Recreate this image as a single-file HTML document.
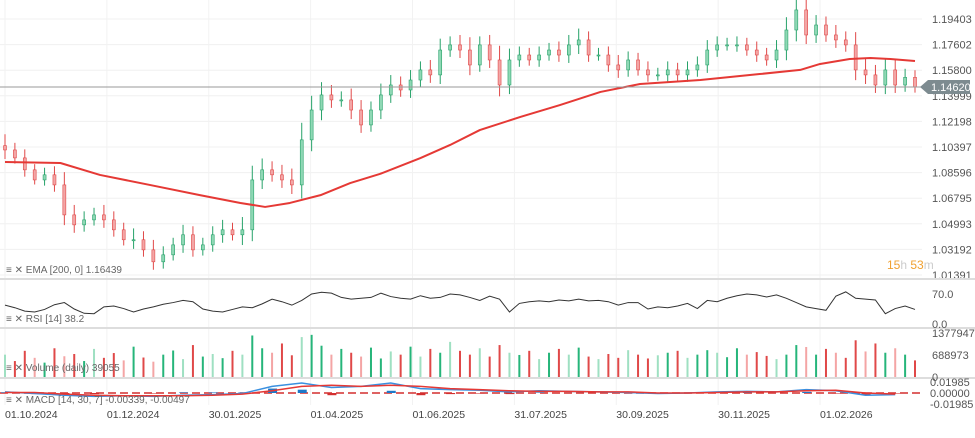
<!DOCTYPE html>
<html><head><meta charset="utf-8"><style>
body{margin:0;background:#fff;width:975px;height:433px;overflow:hidden;font-family:"Liberation Sans",sans-serif}
svg text{font-family:"Liberation Sans",sans-serif}
</style></head><body>
<svg id="c" width="975" height="433" xmlns="http://www.w3.org/2000/svg"></svg>
<script>
const closes=[1.1019,1.0963,1.0879,1.0808,1.0844,1.0773,1.0562,1.0492,1.0527,1.0562,1.0527,1.0457,1.0387,1.0387,1.0316,1.0232,1.0281,1.0351,1.0422,1.0316,1.0351,1.0422,1.0457,1.0422,1.0457,1.0808,1.0879,1.0844,1.0808,1.0773,1.1090,1.1300,1.1406,1.1371,1.1371,1.1300,1.1195,1.1300,1.1406,1.1476,1.1441,1.1511,1.1582,1.1547,1.1722,1.1758,1.1722,1.1617,1.1758,1.1652,1.1476,1.1652,1.1687,1.1652,1.1687,1.1722,1.1687,1.1758,1.1793,1.1687,1.1687,1.1617,1.1582,1.1652,1.1582,1.1547,1.1547,1.1582,1.1547,1.1582,1.1617,1.1722,1.1758,1.1758,1.1758,1.1722,1.1687,1.1652,1.1722,1.1863,1.2004,1.1828,1.1898,1.1828,1.1793,1.1758,1.1582,1.1547,1.1476,1.1582,1.1476,1.1530,1.1462];
const wicks=[0.008,0.005,0.006,0.004,0.005,0.006,0.009,0.007,0.006,0.005,0.007,0.006,0.005,0.008,0.006,0.007,0.006,0.005,0.007,0.006,0.005,0.006,0.007,0.005,0.009,0.010,0.008,0.006,0.007,0.008,0.012,0.010,0.009,0.007,0.006,0.008,0.007,0.006,0.008,0.007,0.006,0.007,0.006,0.007,0.008,0.006,0.007,0.009,0.006,0.007,0.010,0.008,0.006,0.005,0.006,0.005,0.006,0.007,0.008,0.006,0.005,0.006,0.007,0.006,0.005,0.006,0.005,0.006,0.005,0.006,0.006,0.007,0.006,0.005,0.006,0.005,0.006,0.005,0.007,0.009,0.010,0.008,0.007,0.006,0.007,0.006,0.009,0.008,0.007,0.008,0.007,0.006,0.005];
const emaIdx=[0,5.6,9.6,14.7,19.7,23.8,26.3,28.8,31.9,34.9,37.9,42,45,48,52.1,56.1,60.2,64.2,70.3,76.3,80.4,82.4,85.4,87.5,89.5,92];
const emaVals=[1.0934,1.0927,1.0843,1.0772,1.0701,1.0646,1.0618,1.0646,1.0701,1.0786,1.0850,1.0962,1.1054,1.1159,1.1251,1.1335,1.1427,1.1483,1.1511,1.1553,1.1582,1.1624,1.1659,1.1666,1.1659,1.1645];
const rsiVals=[44,38,30,28,34,45,50,35,25,24,40,42,36,28,35,40,46,50,55,52,35,30,28,34,40,38,47,58,52,44,55,70,74,72,62,58,60,62,72,64,60,58,66,60,62,70,68,62,55,65,58,28,48,52,54,52,56,54,58,54,55,52,44,50,50,35,40,38,42,48,36,55,52,60,66,70,68,63,68,60,50,40,36,32,65,75,60,58,56,24,36,42,34];
const volumes=[700,500,820,600,450,900,650,720,500,880,600,750,520,950,610,480,700,830,560,1000,640,720,590,820,700,1300,900,760,1050,680,1250,1320,980,700,880,760,640,920,580,800,700,950,640,880,760,1100,820,700,900,640,1000,760,690,820,560,760,880,700,920,640,560,720,600,840,700,580,680,760,820,600,700,840,760,620,900,700,780,660,560,700,1000,940,700,880,760,600,1150,800,1050,760,900,700,520];
const macdVals=[0.002,-0.001,-0.004,-0.006,-0.005,-0.006,-0.004,-0.003,-0.001,0.012,0.018,0.010,0.012,0.018,0.008,0.006,0.005,0.002,0.004,0.003,0.002,0.001,-0.001,0.000,0.002,0.003,0.002,0.006,0.004,-0.004,-0.003];
const sigVals=[0.001,0.001,-0.002,-0.004,-0.005,-0.005,-0.005,-0.004,-0.002,0.004,0.012,0.014,0.012,0.014,0.012,0.008,0.006,0.004,0.003,0.003,0.002,0.002,0.000,0.000,0.001,0.002,0.002,0.004,0.005,0.000,-0.002];
const priceTicks=[1.19403,1.17602,1.15800,1.13999,1.12198,1.10397,1.08596,1.06795,1.04993,1.03192,1.01391];
const dateLabels=["01.10.2024","01.12.2024","30.01.2025","01.04.2025","01.06.2025","31.07.2025","30.09.2025","30.11.2025","01.02.2026"];
const dateIdx=[0,10.3,20.6,30.9,41.2,51.5,61.8,72.1,82.4];

const S=document.getElementById('c'),NS="http://www.w3.org/2000/svg";
function mk(t,a,p){const e=document.createElementNS(NS,t);for(const k in a)e.setAttribute(k,a[k]);(p||S).appendChild(e);return e;}
const n=closes.length;
const X=i=>5+i*(915-5)/(n-1);
const Y=p=>19+(1.19403-p)/0.18012*256;
const Yr=v=>324-v*(30/70);
const Yv=v=>377-v/1377.947*44;
const Ym=v=>393-v/0.01985*11;

priceTicks.forEach(t=>{const l=mk('line',{x1:0,x2:922,y1:Y(t),y2:Y(t),stroke:'#f0f0f0'});


const tx=mk('text',{x:932,y:Y(t)+4,'font-size':11,fill:'#555'});tx.textContent=t.toFixed(5);

});
dateIdx.forEach((d,k)=>{const l=mk('line',{x1:X(d),x2:X(d),y1:0,y2:405,stroke:'#f2f2f2'});


const tx=mk('text',{x:X(d),y:418,'font-size':10.5,fill:'#444'});tx.textContent=dateLabels[k];

});
[279,328,378].forEach(y=>{const l=mk('line',{x1:0,x2:975,y1:y,y2:y,stroke:'#ddd','stroke-width':2});

});

for(let i=0;i<n;i++){const o=i?closes[i-1]:closes[0]+0.003,c=closes[i];const up=c>=o;const col=up?'#26a269':'#e04848';
const g=mk('g',{});


mk('line',{x1:X(i),x2:X(i),y1:Y(Math.max(o,c)+wicks[i]),y2:Y(Math.min(o,c)-wicks[i]*0.8),stroke:col,'stroke-width':1},g);
mk('rect',{x:X(i)-1.5,y:Y(Math.max(o,c)),width:3,height:Math.max(1,Math.abs(Y(o)-Y(c))),fill:up?'#8fd8b5':'#f3a6a6',stroke:col,'stroke-width':0.6},g);}
const ema=mk('polyline',{points:emaIdx.map((d,k)=>X(d)+','+Y(emaVals[k])).join(' '),fill:'none',stroke:'#e53935','stroke-width':2,'stroke-linejoin':'round'});


const cp=mk('line',{x1:0,x2:925,y1:Y(1.1462),y2:Y(1.1462),stroke:'#999'});


const cb=mk('path',{d:`M920 ${Y(1.1462)} L928 ${Y(1.1462)-7} H970 V${Y(1.1462)+7} H928 Z`,fill:'#7d8b90'});


const ct=mk('text',{x:931,y:Y(1.1462)+4,'font-size':11,fill:'#fff'});ct.textContent='1.14620';


const tm=mk('text',{x:887,y:269,'font-size':12,fill:'#f0a030'});tm.innerHTML='15<tspan fill="#ccc">h</tspan> 53<tspan fill="#ccc">m</tspan>';



const rsi=mk('polyline',{points:rsiVals.map((v,k)=>X(k)+','+Yr(v)).join(' '),fill:'none',stroke:'#333','stroke-width':1});


[[70,'70.0'],[0,'0.0']].forEach(a=>{const t=mk('text',{x:932,y:Yr(a[0])+4,'font-size':11,fill:'#555'});t.textContent=a[1];

});

volumes.forEach((v,i)=>{const o=i?closes[i-1]:closes[0];const up=closes[i]>=o;
const r=mk('rect',{x:X(i)-1,y:Yv(v),width:2,height:377-Yv(v),fill:up?(i%3?'#26b57a':'#9fe0c2'):(i%3?'#e04848':'#f4a5a5')});

});
[[1377947,'1377947'],[688973,'688973'],[0,'0']].forEach(a=>{const t=mk('text',{x:932,y:Yv(a[0]/1000)+4,'font-size':11,fill:'#555'});t.textContent=a[1];

});

const zl=mk('line',{x1:0,x2:922,y1:Ym(0),y2:Ym(0),stroke:'#d32f2f','stroke-dasharray':'8 4','stroke-width':1.5});


macdVals.forEach((v,k)=>{const h=v-sigVals[k];const r=mk('rect',{x:X(k*3)-4,y:Math.min(Ym(h),Ym(0)),width:9,height:Math.abs(Ym(h)-Ym(0)),fill:h>=0?'#1e78c8':'#d32f2f'});

});
const ml=mk('polyline',{points:macdVals.map((v,k)=>X(k*3)+','+Ym(v)).join(' '),fill:'none',stroke:'#3a90e0','stroke-width':1.5});


const sl=mk('polyline',{points:sigVals.map((v,k)=>X(k*3)+','+Ym(v)).join(' '),fill:'none',stroke:'#e53935','stroke-width':1.5});


[[0.01985,'0.01985'],[0,'0.00000'],[-0.01985,'-0.01985']].forEach(a=>{const t=mk('text',{x:930,y:Ym(a[0])+4,'font-size':11,fill:'#555'});t.textContent=a[1];

});

[[273,'≡ ✕ EMA [200, 0] 1.16439','ema-legend'],[322,'≡ ✕ RSI [14] 38.2','rsi-legend'],[371,'≡ ✕ Volume (daily) 39055','volume-legend'],[403,'≡ ✕ MACD [14, 30, 7] -0.00339, -0.00497','macd-legend']].forEach(a=>{const t=mk('text',{x:6,y:a[0],'font-size':10,fill:'#666'});t.textContent=a[1];

});
</script>
</body></html>
